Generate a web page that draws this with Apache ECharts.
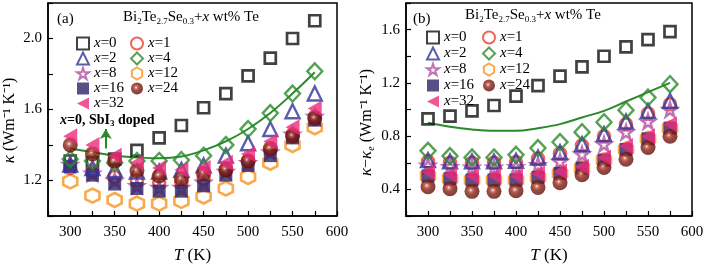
<!DOCTYPE html>
<html><head><meta charset="utf-8">
<script src="https://cdn.jsdelivr.net/npm/echarts@6/dist/echarts.min.js"></script>
<style>html,body{margin:0;padding:0;background:#fff}#c{width:707px;height:269px}</style>
</head><body><div id="c"></div>
<script>
// ---- data ----
const temps = [300,325,350,375,400,425,450,475,500,525,550,575];
const xTicks = [300,350,400,450,500,550,600];
const yTicksA = [1.2,1.6,2.0];
const yTicksB = [0.4,0.8,1.2,1.6];

// panel (a): kappa
const a_x0  = [1.31,1.30,1.32,1.37,1.44,1.51,1.61,1.69,1.79,1.89,2.00,2.10];
const a_x1  = [1.27,1.25,1.22,1.20,1.19,1.19,1.21,1.26,1.31,1.37,1.46,1.56];
const a_x2  = [1.29,1.27,1.26,1.25,1.25,1.26,1.285,1.34,1.41,1.49,1.59,1.69];
const a_x4  = [1.32,1.31,1.30,1.31,1.31,1.315,1.34,1.40,1.49,1.58,1.69,1.815];
const a_x8  = [1.29,1.24,1.20,1.17,1.16,1.16,1.19,1.25,1.30,1.36,1.46,1.56];
const a_x12 = [1.195,1.115,1.09,1.07,1.07,1.085,1.11,1.155,1.22,1.30,1.40,1.50];
const a_x16 = [1.28,1.23,1.18,1.155,1.14,1.14,1.17,1.23,1.285,1.34,1.44,1.54];
const a_x24 = [1.40,1.35,1.31,1.255,1.225,1.21,1.24,1.26,1.31,1.38,1.45,1.55];
const a_x32 = [1.45,1.40,1.34,1.30,1.27,1.26,1.27,1.30,1.35,1.42,1.50,1.605];
const a_sbi = [1.38,1.36,1.34,1.33,1.325,1.335,1.37,1.42,1.49,1.58,1.69,1.81];

// panel (b): kappa - kappa_e
const b_x0  = [0.93,0.95,0.99,1.03,1.10,1.18,1.25,1.32,1.40,1.47,1.525,1.585];
const b_x1  = [0.61,0.60,0.60,0.60,0.605,0.63,0.67,0.73,0.80,0.89,0.97,1.04];
const b_x2  = [0.62,0.61,0.61,0.61,0.615,0.64,0.68,0.74,0.815,0.91,0.99,1.065];
const b_x4  = [0.69,0.65,0.64,0.64,0.66,0.71,0.755,0.83,0.905,0.995,1.09,1.19];
const b_x8  = [0.58,0.57,0.565,0.565,0.57,0.585,0.61,0.665,0.74,0.83,0.91,1.00];
const b_x12 = [0.50,0.48,0.47,0.47,0.47,0.49,0.52,0.56,0.62,0.70,0.78,0.86];
const b_x16 = [0.50,0.48,0.47,0.47,0.47,0.49,0.52,0.56,0.62,0.70,0.78,0.86];
const b_x24 = [0.42,0.405,0.385,0.385,0.39,0.415,0.45,0.51,0.565,0.626,0.715,0.80];
const b_x32 = [0.53,0.51,0.50,0.50,0.50,0.52,0.535,0.57,0.64,0.725,0.80,0.89];
const b_sbi = [0.90,0.87,0.85,0.84,0.84,0.86,0.89,0.94,0.99,1.06,1.13,1.20];

const arrowA = [[340,1.38],[340,1.49]];

const namesCol1 = ['x=0','x=2','x=8','x=16','x=32'];
const namesCol2 = ['x=1','x=4','x=12','x=24'];
const drawOrder = ['x=0','x=12','x=1','x=8','x=16','x=2','x=4','x=24','x=32'];
const dataA = {'x=0':a_x0,'x=1':a_x1,'x=2':a_x2,'x=4':a_x4,'x=8':a_x8,'x=12':a_x12,'x=16':a_x16,'x=24':a_x24,'x=32':a_x32};
const dataB = {'x=0':b_x0,'x=1':b_x1,'x=2':b_x2,'x=4':b_x4,'x=8':b_x8,'x=12':b_x12,'x=16':b_x16,'x=24':b_x24,'x=32':b_x32};

// ---- styles ----
const SERIF = 'Liberation Serif';
const CLR = 'rgba(0,0,0,0)';
const GREEN = '#2a8a2a';
const sty = {
  'x=0':  {symbol:'rect', size:11, itemStyle:{color:CLR,borderColor:'#111',borderWidth:2.7}},
  'x=1':  {symbol:'circle', size:12, itemStyle:{color:CLR,borderColor:'#e8402a',borderWidth:2.6}},
  'x=2':  {symbol:'triangle', size:14, itemStyle:{color:CLR,borderColor:'#33339a',borderWidth:2.4}},
  'x=4':  {symbol:'diamond', size:[15,16], itemStyle:{color:CLR,borderColor:GREEN,borderWidth:2.4}},
  'x=8':  {symbol:'path://M50,0 L61,35 L98,35 L68,57 L79,91 L50,70 L21,91 L32,57 L2,35 L39,35 Z', size:14, itemStyle:{color:CLR,borderColor:'#b0509f',borderWidth:2.4}},
  'x=12': {symbol:'path://M50,0 L93,25 L93,75 L50,100 L7,75 L7,25 Z', size:14, itemStyle:{color:CLR,borderColor:'#f7941d',borderWidth:2.6}},
  'x=16': {symbol:'rect', size:13, itemStyle:{color:'#2d2366'}},
  'x=24': {symbol:'circle', size:15, itemStyle:{color:{type:'radial',x:0.42,y:0.42,r:0.6,colorStops:[{offset:0,color:'#ffffff'},{offset:0.18,color:'#c06050'},{offset:0.45,color:'#8a2016'},{offset:1,color:'#5a0e08'}]}}},
  'x=32': {symbol:'path://M0,50 L100,0 L100,100 Z', size:[14,16], itemStyle:{color:'#ec2a7a'}}
};

function mk(name, arr, idx){
  const s = sty[name];
  return {type:'scatter', name:name, xAxisIndex:idx, yAxisIndex:idx,
    symbol:s.symbol, symbolSize:s.size, itemStyle:s.itemStyle, symbolKeepAspect:false,
    data: temps.map((t,i)=>[t,arr[i]]), z:3};
}

const series = [];
series.push({type:'line', name:'SbI3 doped a', xAxisIndex:0, yAxisIndex:0, smooth:0.4, showSymbol:false,
  lineStyle:{color:GREEN,width:2}, data: temps.map((t,i)=>[t,a_sbi[i]]), z:2,
  markLine:{silent:true, symbol:['none','arrow'], symbolSize:[9,10], label:{show:false},
    lineStyle:{color:GREEN,width:2,type:'solid'}, data:[[{coord:arrowA[0]},{coord:arrowA[1]}]]}});
series.push({type:'line', name:'SbI3 doped b', xAxisIndex:1, yAxisIndex:1, smooth:0.4, showSymbol:false,
  lineStyle:{color:GREEN,width:2}, data: temps.map((t,i)=>[t,b_sbi[i]]), z:2});
drawOrder.forEach(n=>series.push(mk(n,dataA[n],0)));
drawOrder.forEach(n=>series.push(mk(n,dataB[n],1)));

const legText = {fontFamily:SERIF, fontSize:15, color:'#000', rich:{i:{fontFamily:SERIF,fontSize:15,fontStyle:'italic',color:'#000'}}};
function leg(data,left,top,gap){
  return {data:data, orient:'vertical', left:left, top:top, itemWidth:12, itemHeight:12, itemGap:gap,
    selectedMode:false, textStyle:legText, formatter:n=>'{i|x}'+n.slice(1)};
}

function xAx(idx){
  return {type:'value', gridIndex:idx, min:275, max:600, interval:25,
    axisLine:{show:true,lineStyle:{color:'#000',width:1.5}},
    axisTick:{show:true,inside:true,length:5,lineStyle:{color:'#000',width:1.2}},
    splitLine:{show:false},
    axisLabel:{margin:9, fontFamily:SERIF, fontSize:15, color:'#000',
      formatter:v=> xTicks.includes(v)? String(v):''},
    name:'{i|T} (K)', nameLocation:'middle', nameGap:31,
    nameTextStyle:{fontFamily:SERIF,fontSize:17,color:'#000',rich:{i:{fontFamily:SERIF,fontSize:17,fontStyle:'italic',color:'#000'}}}};
}
function yAx(idx,min,max,ticks,name,rich,pad){
  return {type:'value', gridIndex:idx, min:min, max:max, interval:0.2,
    axisLine:{show:true,lineStyle:{color:'#000',width:1.5}},
    axisTick:{show:true,inside:true,length:5,lineStyle:{color:'#000',width:1.2}},
    splitLine:{show:false},
    axisLabel:{margin:6, fontFamily:SERIF, fontSize:15, color:'#000',
      formatter:v=> ticks.some(t=>Math.abs(t-v)<1e-6)? v.toFixed(1):''},
    name:name, nameLocation:'middle', nameGap:30, nameRotate:90,
    nameTextStyle:{fontFamily:SERIF,fontSize:16,color:'#000',padding:pad,rich:rich}};
}

const subRich = {
  n:{fontFamily:SERIF,fontSize:15,lineHeight:18,color:'#000'},
  i:{fontFamily:SERIF,fontSize:15,lineHeight:18,fontStyle:'italic',color:'#000'},
  s:{fontFamily:SERIF,fontSize:9,lineHeight:10,verticalAlign:'bottom',color:'#000'}
};
const titleTxt = '{n|Bi}{s|2}{n|Te}{s|2.7}{n|Se}{s|0.3}{n|+}{i|x}{n| wt% Te}';

const chart = echarts.init(document.getElementById('c'));
chart.setOption({
  animation:false,
  backgroundColor:'#fff',
  grid:[
    {left:48, top:3, width:289, height:215, show:true, borderColor:'#000', borderWidth:1.5},
    {left:406, top:3, width:286, height:215, show:true, borderColor:'#000', borderWidth:1.5}
  ],
  xAxis:[xAx(0), xAx(1)],
  yAxis:[
    yAx(0,1.0,2.2,yTicksA,'{i|κ} (Wm⁻¹ K⁻¹)',{i:{fontFamily:SERIF,fontSize:17,fontStyle:'italic',color:'#000'}},[0,22,0,0]),
    yAx(1,0.2,1.8,yTicksB,'{i|κ}−{i|κ}{e|e} (Wm⁻¹ K⁻¹)',{i:{fontFamily:SERIF,fontSize:17,fontStyle:'italic',color:'#000'},e:{fontFamily:SERIF,fontSize:10,fontStyle:'italic',color:'#000',padding:[8,0,0,0]}},[0,26,0,0])
  ],
  legend:[leg(namesCol1,71,31,0), leg(namesCol2,125,31,0), leg(namesCol1,421,25,1), leg(namesCol2,477,25,1)],
  graphic:[
    {type:'text', left:57, top:12, style:{text:'(a)', font:'15px "Liberation Serif"', fill:'#000'}},
    {type:'text', left:123, top:10, style:{text:titleTxt, rich:subRich}},
    {type:'text', left:413, top:12, style:{text:'(b)', font:'15px "Liberation Serif"', fill:'#000'}},
    {type:'text', left:465, top:8, style:{text:titleTxt, rich:subRich}},
    {type:'text', left:60, top:113, style:{text:'{bi|x}{b|=0, SbI}{bs|3}{b| doped}', rich:{
      b:{fontFamily:SERIF,fontSize:14,fontWeight:'bold',lineHeight:17,color:GREEN},
      bi:{fontFamily:SERIF,fontSize:14,fontWeight:'bold',fontStyle:'italic',lineHeight:17,color:GREEN},
      bs:{fontFamily:SERIF,fontSize:9,fontWeight:'bold',lineHeight:10,verticalAlign:'bottom',color:GREEN}}}}
  ],
  series:series
});
</script></body></html>
